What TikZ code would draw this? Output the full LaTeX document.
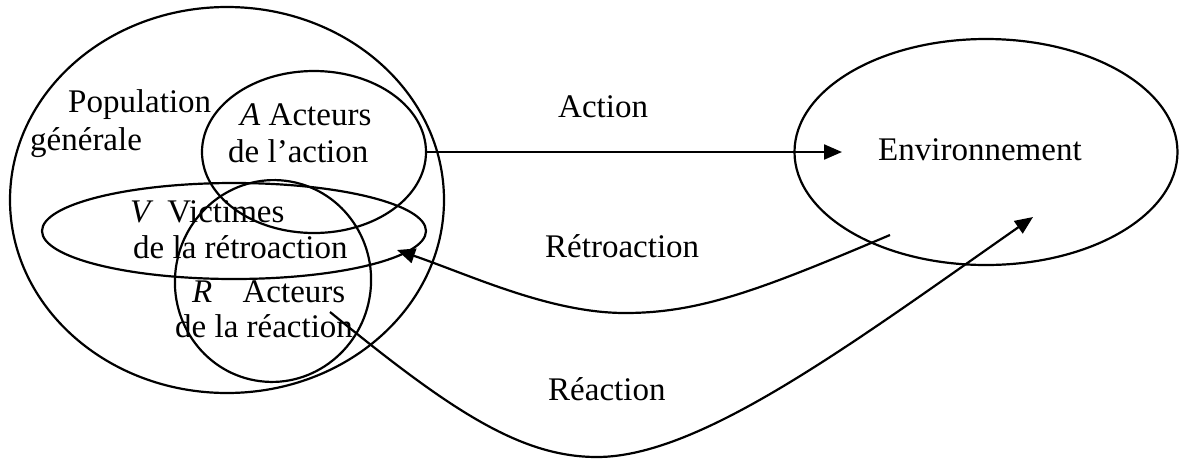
\documentclass[tikz,border=0pt]{standalone}
\usepackage{fontspec}
\setmainfont{Liberation Serif}
\usetikzlibrary{arrows.meta, shapes.geometric}

\begin{document}
\begin{tikzpicture}[
  x=1pt, y=-1pt,
  every node/.style={font=\fontsize{33}{38}\selectfont, inner sep=0pt},
  % Styles
  ring/.style={ellipse, draw, line width=2.2pt, inner sep=0pt},
  lbl/.style={anchor=base west},
  arr/.style={-{Triangle[length=18pt, width=15pt]}, line width=2.2pt},
]
  \useasboundingbox (0,0) rectangle (1179,459);

  % ── SETS ──────────────────────────────────────────────────
  \node[ring, minimum width=434pt, minimum height=386pt] (pop) at (227,200) {};
  \node[ring, minimum width=224pt, minimum height=162pt] (act) at (314,152) {};
  \node[ring, minimum width=384pt, minimum height=96pt] (vic) at (234,231) {};
  \node[ring, minimum width=196pt, minimum height=202pt, rotate=-10] (rea) at (273,281) {};
  \node[ring, minimum width=383pt, minimum height=226pt] (env) at (986,152) {};

  % Set labels
  \node[lbl] (poptxt) at (68,112) {Population};
  \node[lbl] (poptxtb) at (30,150) {générale};
  \node[lbl] (acttxt) at (240,125) {\textit{A} Acteurs};
  \node[lbl] (acttxtb) at (228,162) {de l’action};
  \node[lbl] (victxt) at (130,222) {\textit{V}\, Victimes};
  \node[lbl] (victxtb) at (133,258) {de la rétroaction};
  \node[lbl] (reatxt) at (192,302) {\textit{R}\hspace{22pt} Acteurs};
  \node[lbl] (reatxtb) at (175,337) {de la réaction};
  \node[lbl] (envtxt) at (878,160) {Environnement};

  % ── LINKS ─────────────────────────────────────────────────
  \coordinate (actend) at (842,152);
  \coordinate (retstart) at (890,235);
  \coordinate (retend) at (397,250);
  \coordinate (reastart) at (330,312);
  \coordinate (reaend) at (1033,217);

  \draw[arr] (act.east) -- (actend);
  \draw[arr] (retstart) .. controls (760,290) and (700,313) .. (625,313)
    .. controls (550,313) and (470,275) .. (retend);
  \draw[arr] (reastart) .. controls (450,410) and (520,457) .. (597,457)
    .. controls (700,457) and (850,345) .. (reaend);

  % Link labels
  \node[lbl] (acttag) at (558,117) {Action};
  \node[lbl] (rettag) at (545,257) {Rétroaction};
  \node[lbl] (reatag) at (548,400) {Réaction};

\end{tikzpicture}
\end{document}
